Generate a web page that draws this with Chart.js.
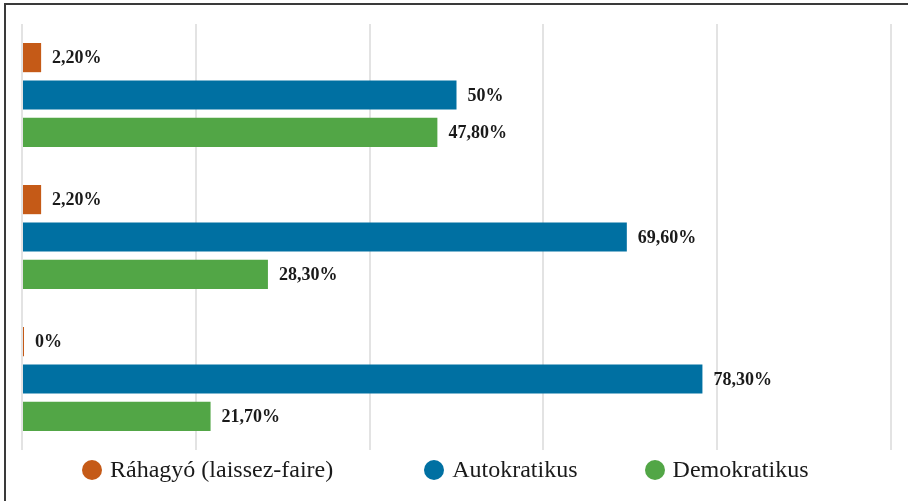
<!DOCTYPE html>
<html>
<head>
<meta charset="utf-8">
<script src="https://cdn.jsdelivr.net/npm/chart.js@4"></script>
<style>
    html, body { margin: 0; padding: 0; background: #fff; overflow: hidden; }
    #wrap { position: relative; width: 908px; height: 501px; }
    #frame { position: absolute; left: 4px; top: 3px; width: 950px; height: 550px;
             border: 2px solid #3a3a3a; box-sizing: border-box; pointer-events: none; }
    #legend { position: absolute; top: 456px; left: 82px; display: flex; align-items: center;
              font-family: "Liberation Serif", "Times New Roman", serif; font-size: 24px; color: #1a1a1a; }
    .item { display: flex; align-items: center; white-space: nowrap; }
    .dot { width: 20px; height: 20px; border-radius: 50%; margin-right: 8px; }
</style>
</head>
<body>
<div id="wrap">
    <canvas id="chart" width="908" height="501"></canvas>
    <div id="frame"></div>
    <div id="legend"></div>
</div>
<script>
// Catégories (groupes de barres, de haut en bas)
const groups = ['1', '2', '3'];

// Séries
const seriesNames = ['Ráhagyó (laissez-faire)', 'Autokratikus', 'Demokratikus'];
const laissezFaire = [2.2, 2.2, 0];
const autokratikus = [50, 69.6, 78.3];
const demokratikus = [47.8, 28.3, 21.7];
const seriesColors = ['#C55A17', '#0070A2', '#52A646'];

// Échelle
const xMin = 0, xMax = 100, xStep = 20;

function fmt(v) {
    return (Number.isInteger(v) ? String(v) : v.toFixed(2).replace('.', ',')) + '%';
}

// Étiquettes de valeur au bout des barres
const valueLabels = {
    id: 'valueLabels',
    afterDatasetsDraw(chart) {
        const ctx = chart.ctx;
        ctx.save();
        ctx.font = 'bold 18px "Liberation Serif", "Times New Roman", serif';
        ctx.fillStyle = '#1a1a1a';
        ctx.textBaseline = 'middle';
        ctx.textAlign = 'left';
        chart.data.datasets.forEach((ds, i) => {
            chart.getDatasetMeta(i).data.forEach((bar, j) => {
                ctx.fillText(fmt(ds.data[j]), bar.x + 11, bar.y + 1);
            });
        });
        ctx.restore();
    }
};

const chart = new Chart(document.getElementById('chart'), {
    type: 'bar',
    data: {
        labels: groups,
        datasets: [
            { label: seriesNames[0], data: laissezFaire, backgroundColor: seriesColors[0], minBarLength: 2 },
            { label: seriesNames[1], data: autokratikus, backgroundColor: seriesColors[1] },
            { label: seriesNames[2], data: demokratikus, backgroundColor: seriesColors[2] }
        ]
    },
    options: {
        indexAxis: 'y',
        responsive: false,
        animation: false,
        layout: { padding: { left: 22, right: 17, top: 24, bottom: 51 } },
        datasets: { bar: { categoryPercentage: 0.79, barPercentage: 0.78 } },
        scales: {
            x: {
                min: xMin, max: xMax,
                ticks: { display: false, stepSize: xStep },
                grid: { color: '#e3e3e3', lineWidth: 2, drawTicks: false },
                border: { display: false }
            },
            y: { display: false }
        },
        plugins: {
            legend: { display: false },
            tooltip: { enabled: false }
        }
    },
    plugins: [valueLabels]
});

// Légende HTML
const gaps = [0, 91, 67];
const legend = document.getElementById('legend');
chart.data.datasets.forEach((ds, i) => {
    const item = document.createElement('div');
    item.className = 'item';
    item.style.marginLeft = gaps[i] + 'px';
    item.innerHTML = `<span class="dot" style="background:${ds.backgroundColor}"></span><span>${ds.label}</span>`;
    legend.appendChild(item);
});
</script>
</body>
</html>
